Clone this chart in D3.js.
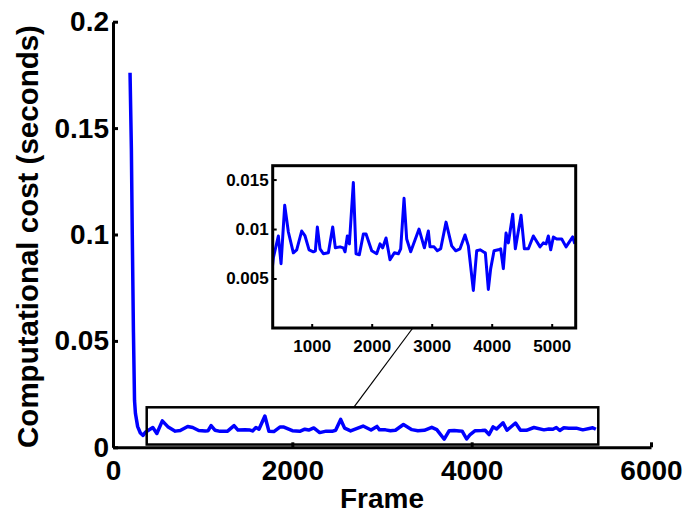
<!DOCTYPE html>
<html>
<head>
<meta charset="utf-8">
<script src="https://cdn.jsdelivr.net/npm/d3@7"></script>
<style>
  html, body { margin: 0; padding: 0; background: #fff; }
  svg { display: block; font-family: "Liberation Sans", Arial, Helvetica, sans-serif; font-weight: bold; }
</style>
</head>
<body>
<svg id="chart" width="689" height="513"></svg>
<script>
// ---------------- data ----------------
const frames = [190, 205, 215, 228, 240, 250, 275, 305, 335,
  361, 444, 489, 550, 611, 694, 750, 833, 889, 956, 1028, 1061, 1094, 1139, 1194, 1278,
  1350, 1394, 1472, 1528, 1556, 1594, 1628, 1694, 1739, 1794, 1861, 1906, 2000, 2083,
  2139, 2183, 2239, 2305, 2378, 2444, 2483, 2539, 2583, 2650, 2789, 2878, 2944, 2972,
  3039, 3094, 3150, 3239, 3333, 3400, 3472, 3555, 3611, 3694, 3750, 3806, 3861, 3894,
  3944, 3983, 4039, 4111, 4150, 4194, 4239, 4278, 4350, 4394, 4489, 4544, 4611, 4694,
  4806, 4861, 4906, 4944, 4983, 5028, 5083, 5167, 5239, 5350, 5385];
const cost = [0.176, 0.14, 0.1, 0.054, 0.022, 0.016, 0.0097, 0.0067, 0.0056,
  0.0071, 0.0093, 0.0065, 0.0124, 0.0097, 0.0076, 0.0079, 0.0098, 0.0093, 0.0079, 0.0077, 0.0078, 0.0102, 0.0080, 0.0075, 0.0076,
  0.0102, 0.0081, 0.0082, 0.0081, 0.0077, 0.0093, 0.0085, 0.0147, 0.0075, 0.0074, 0.0095, 0.0095, 0.0078, 0.0075,
  0.0085, 0.0081, 0.0091, 0.0069, 0.0076, 0.0075, 0.0080, 0.0131, 0.0090, 0.0077, 0.0100, 0.0081, 0.0098, 0.0082,
  0.0082, 0.0078, 0.0080, 0.0107, 0.0083, 0.0078, 0.0080, 0.0094, 0.0083, 0.0038, 0.0078, 0.0079, 0.0077, 0.0076,
  0.0039, 0.0060, 0.0078, 0.0079, 0.0080, 0.0060, 0.0096, 0.0086, 0.0115, 0.0080, 0.0114, 0.0080, 0.0080, 0.0093,
  0.0082, 0.0086, 0.0085, 0.0093, 0.0079, 0.0092, 0.0090, 0.0090, 0.0082, 0.0092, 0.0085];

const mainXTicks = [0, 2000, 4000, 6000];
const mainXTickLabels = ["0", "2000", "4000", "6000"];
const mainYTicks = [0, 0.05, 0.1, 0.15, 0.2];
const mainYTickLabels = ["0", "0.05", "0.1", "0.15", "0.2"];
const insetXTicks = [1000, 2000, 3000, 4000, 5000];
const insetXTickLabels = ["1000", "2000", "3000", "4000", "5000"];
const insetYTicks = [0.005, 0.01, 0.015];
const insetYTickLabels = ["0.005", "0.01", "0.015"];

const mainXDomain = [0, 6000];
const mainYDomain = [0, 0.2];
const insetXDomain = [350, 5400];
const insetYDomain = [0, 0.0164];
const zoomBoxX = [376, 5412];
const zoomBoxY = [0.0013, 0.0188];
const connectorFrame = 2685;

const xLabel = "Frame";
const yLabel = "Computational cost (seconds)";

// ---------------- drawing ----------------
const svg = d3.select("#chart");
const blue = "#0000ff";
const data = frames.map((f, i) => ({ f, v: cost[i] }));

// main axes
const x = d3.scaleLinear().domain(mainXDomain).range([113, 651]);
const y = d3.scaleLinear().domain(mainYDomain).range([447.3, 21.7]);

const line = d3.line().x(d => x(d.f)).y(d => y(d.v));
svg.append("path").datum(data)
  .attr("d", line).attr("fill", "none").attr("stroke", blue)
  .attr("stroke-width", 3.5).attr("stroke-linejoin", "round");

const xAxis = svg.append("g").attr("transform", `translate(0,${y(0)})`)
  .call(d3.axisBottom(x).tickValues(mainXTicks)
    .tickFormat((d, i) => mainXTickLabels[i])
    .tickSizeInner(-5).tickSizeOuter(0).tickPadding(13));
const yAxis = svg.append("g").attr("transform", `translate(${x(0)},0)`)
  .call(d3.axisLeft(y).tickValues(mainYTicks)
    .tickFormat((d, i) => mainYTickLabels[i])
    .tickSizeInner(-5).tickSizeOuter(0).tickPadding(4));
[xAxis, yAxis].forEach(g => {
  g.select(".domain").attr("stroke", "#000").attr("stroke-width", 3);
  g.selectAll(".tick line").attr("stroke", "#000").attr("stroke-width", 3);
  g.selectAll(".tick text").attr("fill", "#000")
    .style("font-size", "28px").style("font-weight", "bold")
    .style("font-family", '"Liberation Sans", Arial, sans-serif');
});

// axis labels
svg.append("text").attr("x", (x.range()[0] + x.range()[1]) / 2).attr("y", 508)
  .attr("text-anchor", "middle").style("font-size", "28px").text(xLabel);
svg.append("text")
  .attr("transform", `translate(38,${(y.range()[0] + y.range()[1]) / 2 + 2}) rotate(-90)`)
  .attr("text-anchor", "middle").style("font-size", "29.5px").text(yLabel);

// zoom rectangle on main plot
svg.append("rect")
  .attr("x", x(zoomBoxX[0])).attr("y", y(zoomBoxY[1]))
  .attr("width", x(zoomBoxX[1]) - x(zoomBoxX[0]))
  .attr("height", y(zoomBoxY[0]) - y(zoomBoxY[1]))
  .attr("fill", "none").attr("stroke", "#000").attr("stroke-width", 2.5);

// inset
const ix = d3.scaleLinear().domain(insetXDomain).range([272.7, 575.7]);
const iy = d3.scaleLinear().domain(insetYDomain).range([328, 165.7]);

// connector
svg.append("line")
  .attr("x1", x(connectorFrame)).attr("y1", y(zoomBoxY[1]))
  .attr("x2", ix(connectorFrame)).attr("y2", iy(insetYDomain[0]))
  .attr("stroke", "#000").attr("stroke-width", 1.2);

svg.append("rect")
  .attr("x", ix.range()[0]).attr("y", iy.range()[1])
  .attr("width", ix.range()[1] - ix.range()[0])
  .attr("height", iy.range()[0] - iy.range()[1])
  .attr("fill", "#fff");

svg.append("clipPath").attr("id", "insetClip").append("rect")
  .attr("x", ix.range()[0]).attr("y", iy.range()[1])
  .attr("width", ix.range()[1] - ix.range()[0])
  .attr("height", iy.range()[0] - iy.range()[1]);

const iline = d3.line().x(d => ix(d.f)).y(d => iy(d.v));
svg.append("path").datum(data.filter(d => d.f >= 300))
  .attr("clip-path", "url(#insetClip)")
  .attr("d", iline).attr("fill", "none").attr("stroke", blue)
  .attr("stroke-width", 3).attr("stroke-linejoin", "round");

const ixAxis = svg.append("g").attr("transform", `translate(0,${iy.range()[0]})`)
  .call(d3.axisBottom(ix).tickValues(insetXTicks)
    .tickFormat((d, i) => insetXTickLabels[i])
    .tickSizeInner(-4).tickSizeOuter(0).tickPadding(12));
const iyAxis = svg.append("g").attr("transform", `translate(${ix.range()[0]},0)`)
  .call(d3.axisLeft(iy).tickValues(insetYTicks)
    .tickFormat((d, i) => insetYTickLabels[i])
    .tickSizeInner(-4).tickSizeOuter(0).tickPadding(4));
[ixAxis, iyAxis].forEach(g => {
  g.select(".domain").remove();
  g.selectAll(".tick line").attr("stroke", "#000").attr("stroke-width", 2);
  g.selectAll(".tick text").attr("fill", "#000")
    .style("font-size", "17px").style("font-weight", "bold")
    .style("font-family", '"Liberation Sans", Arial, sans-serif');
});
svg.append("rect")
  .attr("x", ix.range()[0]).attr("y", iy.range()[1])
  .attr("width", ix.range()[1] - ix.range()[0])
  .attr("height", iy.range()[0] - iy.range()[1])
  .attr("fill", "none").attr("stroke", "#000").attr("stroke-width", 3);
</script>
</body>
</html>
